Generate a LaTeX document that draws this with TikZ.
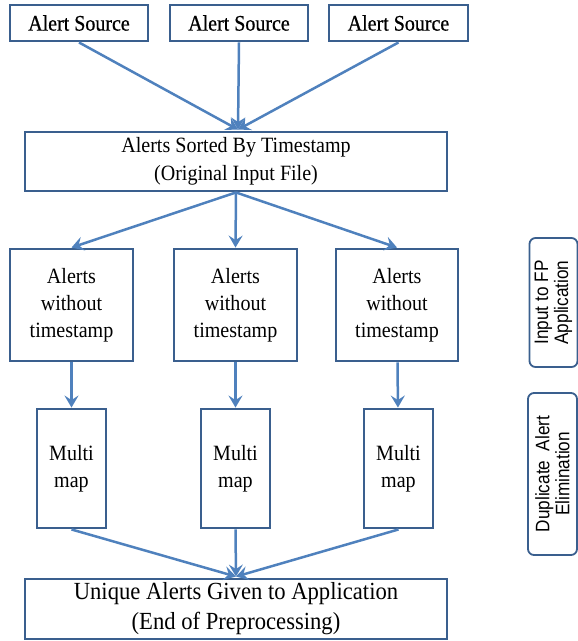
\documentclass[tikz,border=0pt]{standalone}
\usepackage{fontspec}
\setmainfont{Liberation Serif}
\newfontfamily\tallserif[FakeStretch=0.92]{Liberation Serif}
\newfontfamily\heavyserif[FakeStretch=0.9,FakeBold=0.6]{Liberation Serif}
\newfontfamily\labelsans[FakeStretch=0.88]{Liberation Sans}
\usetikzlibrary{arrows.meta,calc}
\definecolor{boxblue}{HTML}{3A5F8E}
\definecolor{arrowblue}{HTML}{4F81BD}
\tikzset{
  stagebox/.style={draw=boxblue, line width=2.9pt, fill=white, align=center,
    inner sep=0pt, font=\tallserif\fontsize{21.8}{27}\selectfont},
  sidebox/.style={draw=boxblue, line width=1.8pt, rounded corners=6pt, rotate=90,
    align=center, inner sep=0pt, font=\labelsans\fontsize{19.5}{20}\selectfont},
  flow/.style={draw=arrowblue, line width=2.5pt,
    -{Stealth[length=12pt,width=14pt,inset=4.5pt]}}
}
\begin{document}
\begin{tikzpicture}[x=1pt,y=-1pt]
\useasboundingbox (0,0) rectangle (578,641);

% alert sources
\node[stagebox, minimum width=138, minimum height=36,
  font=\heavyserif\fontsize{22.2}{27}\selectfont] (src1) at (79,23) {Alert Source};
\node[stagebox, minimum width=138, minimum height=36,
  font=\heavyserif\fontsize{22.2}{27}\selectfont] (src2) at (239,23) {Alert Source};
\node[stagebox, minimum width=139, minimum height=36,
  font=\heavyserif\fontsize{22.2}{27}\selectfont] (src3) at (398.5,23) {Alert Source};

% sorted input
\node[stagebox, minimum width=422, minimum height=59,
  font=\tallserif\fontsize{21.8}{28}\selectfont] (sorted) at (236,161.5)
  {Alerts Sorted By Timestamp\\(Original Input File)};

% alerts without timestamp
\node[stagebox, minimum width=123, minimum height=112] (w1) at (71.5,305) {Alerts\\without\\timestamp};
\node[stagebox, minimum width=123, minimum height=112] (w2) at (235.5,305) {Alerts\\without\\timestamp};
\node[stagebox, minimum width=122, minimum height=112] (w3) at (397,305) {Alerts\\without\\timestamp};

% multimaps
\node[stagebox, minimum width=69, minimum height=119] (m1) at (71.5,468.5) {Multi\\map};
\node[stagebox, minimum width=69, minimum height=119] (m2) at (235.5,468.5) {Multi\\map};
\node[stagebox, minimum width=69, minimum height=119] (m3) at (398.5,468.5) {Multi\\map};

% result
\node[stagebox, minimum width=422, minimum height=60,
  font=\tallserif\fontsize{24.6}{30}\selectfont] (final) at (236,609)
  {Unique Alerts Given to Application\\(End of Preprocessing)};

% stage labels
\node[sidebox, minimum width=129, minimum height=48] (lab1) at (553.5,302.5)
  {Input to FP\\Application};
\node[sidebox, minimum width=162, minimum height=49] (lab2) at (552.5,474)
  {Duplicate~ Alert\\Elimination};

% connectors
\coordinate (in) at ($(sorted.north)+(2,-1)$);
\foreach \s in {src1,src2,src3} \draw[flow] (\s.south) -- (in);
\foreach \w in {w1,w2,w3} \draw[flow] (sorted.south) -- (\w.north);
\draw[flow] (w1) -- (m1);
\draw[flow] (w2) -- (m2);
\draw[flow] (w3) -- (m3);
\coordinate (out) at ($(final.north)+(0,-1)$);
\foreach \m in {m1,m2,m3} \draw[flow] (\m.south) -- (out);
\end{tikzpicture}
\end{document}
